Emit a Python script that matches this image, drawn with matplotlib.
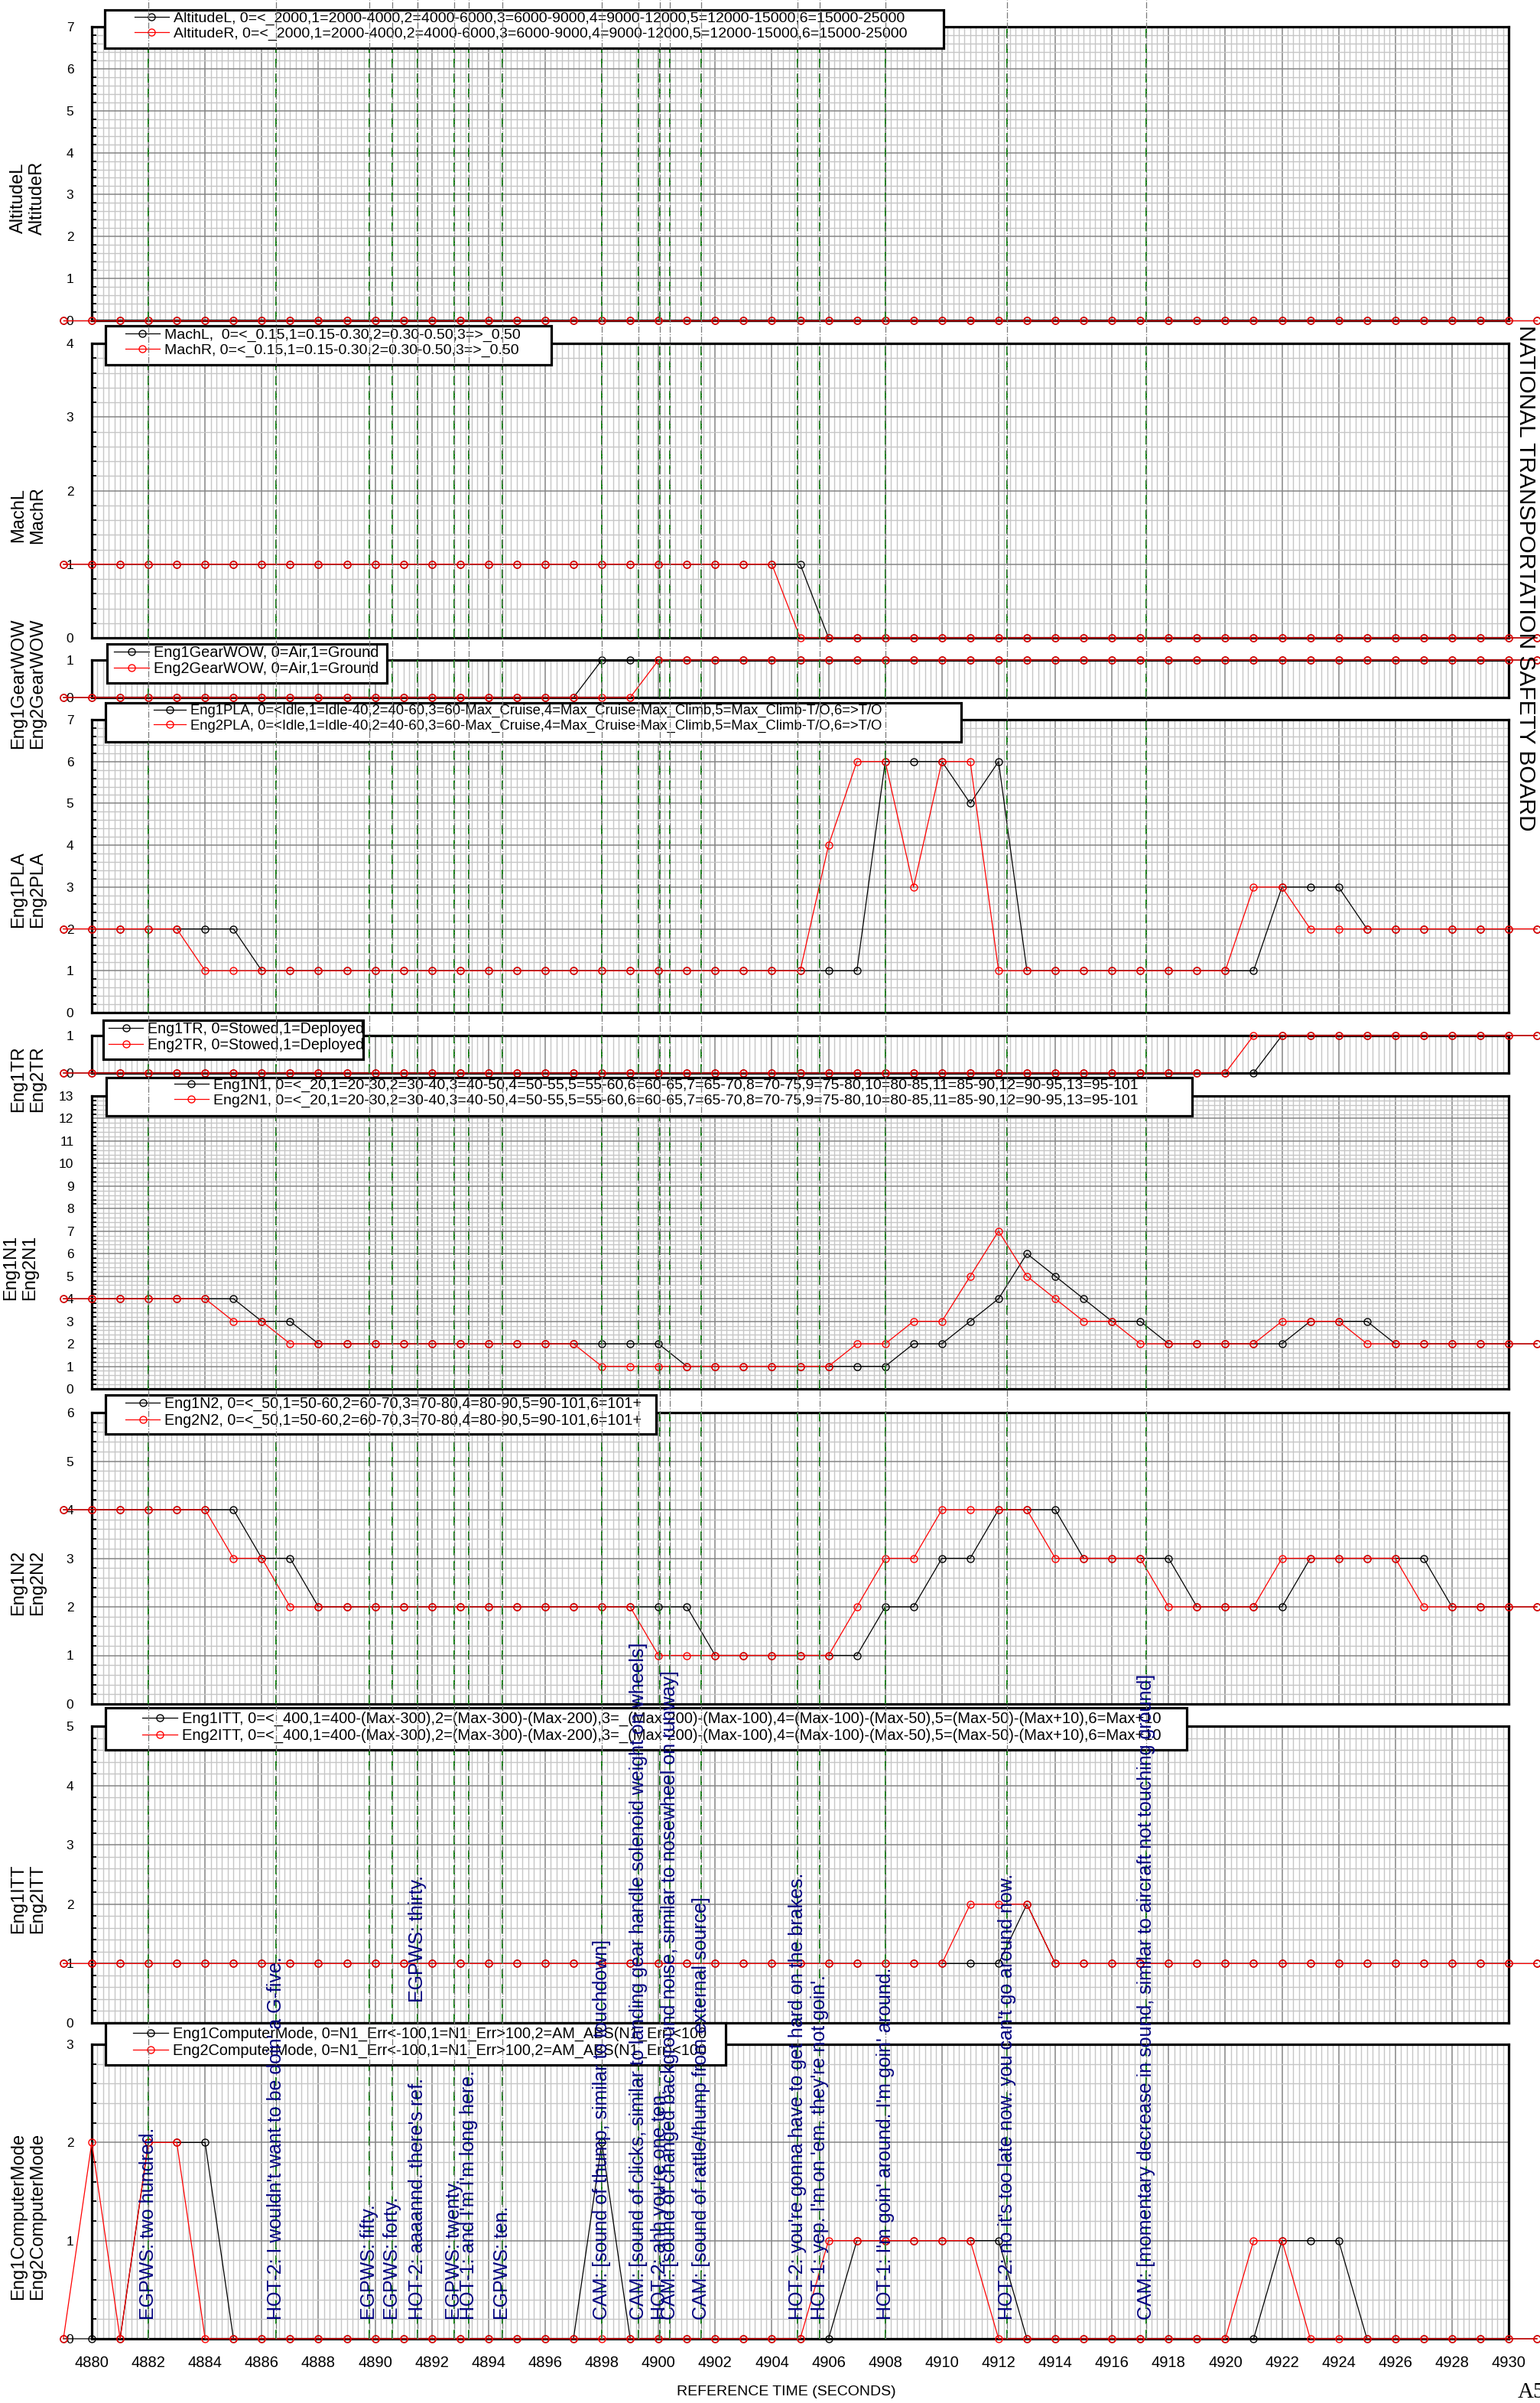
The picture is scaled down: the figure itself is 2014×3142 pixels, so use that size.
import matplotlib
matplotlib.use("Agg")
import matplotlib.pyplot as plt
import matplotlib.transforms as mtransforms
from matplotlib.lines import Line2D
from matplotlib.patches import Rectangle
from matplotlib.ticker import MultipleLocator

plt.rcParams["font.family"] = ["Liberation Sans", "DejaVu Sans"]

# ---------------- data: one sample per second, 4879 .. 4931 ----------------
time_s = list(range(4879, 4932))

altitude_l = [0, 0, 0, 0, 0, 0, 0, 0, 0, 0,
              0, 0, 0, 0, 0, 0, 0, 0, 0, 0,
              0, 0, 0, 0, 0, 0, 0, 0, 0, 0,
              0, 0, 0, 0, 0, 0, 0, 0, 0, 0,
              0, 0, 0, 0, 0, 0, 0, 0, 0, 0,
              0, 0, 0]
altitude_r = [0, 0, 0, 0, 0, 0, 0, 0, 0, 0,
              0, 0, 0, 0, 0, 0, 0, 0, 0, 0,
              0, 0, 0, 0, 0, 0, 0, 0, 0, 0,
              0, 0, 0, 0, 0, 0, 0, 0, 0, 0,
              0, 0, 0, 0, 0, 0, 0, 0, 0, 0,
              0, 0, 0]

mach_l = [1, 1, 1, 1, 1, 1, 1, 1, 1, 1,
          1, 1, 1, 1, 1, 1, 1, 1, 1, 1,
          1, 1, 1, 1, 1, 1, 1, 0, 0, 0,
          0, 0, 0, 0, 0, 0, 0, 0, 0, 0,
          0, 0, 0, 0, 0, 0, 0, 0, 0, 0,
          0, 0, 0]
mach_r = [1, 1, 1, 1, 1, 1, 1, 1, 1, 1,
          1, 1, 1, 1, 1, 1, 1, 1, 1, 1,
          1, 1, 1, 1, 1, 1, 0, 0, 0, 0,
          0, 0, 0, 0, 0, 0, 0, 0, 0, 0,
          0, 0, 0, 0, 0, 0, 0, 0, 0, 0,
          0, 0, 0]

gear_l = [0, 0, 0, 0, 0, 0, 0, 0, 0, 0,
          0, 0, 0, 0, 0, 0, 0, 0, 0, 1,
          1, 1, 1, 1, 1, 1, 1, 1, 1, 1,
          1, 1, 1, 1, 1, 1, 1, 1, 1, 1,
          1, 1, 1, 1, 1, 1, 1, 1, 1, 1,
          1, 1, 1]
gear_r = [0, 0, 0, 0, 0, 0, 0, 0, 0, 0,
          0, 0, 0, 0, 0, 0, 0, 0, 0, 0,
          0, 1, 1, 1, 1, 1, 1, 1, 1, 1,
          1, 1, 1, 1, 1, 1, 1, 1, 1, 1,
          1, 1, 1, 1, 1, 1, 1, 1, 1, 1,
          1, 1, 1]

pla_l = [2, 2, 2, 2, 2, 2, 2, 1, 1, 1,
         1, 1, 1, 1, 1, 1, 1, 1, 1, 1,
         1, 1, 1, 1, 1, 1, 1, 1, 1, 6,
         6, 6, 5, 6, 1, 1, 1, 1, 1, 1,
         1, 1, 1, 3, 3, 3, 2, 2, 2, 2,
         2, 2, 2]
pla_r = [2, 2, 2, 2, 2, 1, 1, 1, 1, 1,
         1, 1, 1, 1, 1, 1, 1, 1, 1, 1,
         1, 1, 1, 1, 1, 1, 1, 4, 6, 6,
         3, 6, 6, 1, 1, 1, 1, 1, 1, 1,
         1, 1, 3, 3, 2, 2, 2, 2, 2, 2,
         2, 2, 2]

tr_l = [0, 0, 0, 0, 0, 0, 0, 0, 0, 0,
        0, 0, 0, 0, 0, 0, 0, 0, 0, 0,
        0, 0, 0, 0, 0, 0, 0, 0, 0, 0,
        0, 0, 0, 0, 0, 0, 0, 0, 0, 0,
        0, 0, 0, 1, 1, 1, 1, 1, 1, 1,
        1, 1, 1]
tr_r = [0, 0, 0, 0, 0, 0, 0, 0, 0, 0,
        0, 0, 0, 0, 0, 0, 0, 0, 0, 0,
        0, 0, 0, 0, 0, 0, 0, 0, 0, 0,
        0, 0, 0, 0, 0, 0, 0, 0, 0, 0,
        0, 0, 1, 1, 1, 1, 1, 1, 1, 1,
        1, 1, 1]

n1_l = [4, 4, 4, 4, 4, 4, 4, 3, 3, 2,
        2, 2, 2, 2, 2, 2, 2, 2, 2, 2,
        2, 2, 1, 1, 1, 1, 1, 1, 1, 1,
        2, 2, 3, 4, 6, 5, 4, 3, 3, 2,
        2, 2, 2, 2, 3, 3, 3, 2, 2, 2,
        2, 2, 2]
n1_r = [4, 4, 4, 4, 4, 4, 3, 3, 2, 2,
        2, 2, 2, 2, 2, 2, 2, 2, 2, 1,
        1, 1, 1, 1, 1, 1, 1, 1, 2, 2,
        3, 3, 5, 7, 5, 4, 3, 3, 2, 2,
        2, 2, 2, 3, 3, 3, 2, 2, 2, 2,
        2, 2, 2]

n2_l = [4, 4, 4, 4, 4, 4, 4, 3, 3, 2,
        2, 2, 2, 2, 2, 2, 2, 2, 2, 2,
        2, 2, 2, 1, 1, 1, 1, 1, 1, 2,
        2, 3, 3, 4, 4, 4, 3, 3, 3, 3,
        2, 2, 2, 2, 3, 3, 3, 3, 3, 2,
        2, 2, 2]
n2_r = [4, 4, 4, 4, 4, 4, 3, 3, 2, 2,
        2, 2, 2, 2, 2, 2, 2, 2, 2, 2,
        2, 1, 1, 1, 1, 1, 1, 1, 2, 3,
        3, 4, 4, 4, 4, 3, 3, 3, 3, 2,
        2, 2, 2, 3, 3, 3, 3, 3, 2, 2,
        2, 2, 2]

itt_l = [1, 1, 1, 1, 1, 1, 1, 1, 1, 1,
         1, 1, 1, 1, 1, 1, 1, 1, 1, 1,
         1, 1, 1, 1, 1, 1, 1, 1, 1, 1,
         1, 1, 1, 1, 2, 1, 1, 1, 1, 1,
         1, 1, 1, 1, 1, 1, 1, 1, 1, 1,
         1, 1, 1]
itt_r = [1, 1, 1, 1, 1, 1, 1, 1, 1, 1,
         1, 1, 1, 1, 1, 1, 1, 1, 1, 1,
         1, 1, 1, 1, 1, 1, 1, 1, 1, 1,
         1, 1, 2, 2, 2, 1, 1, 1, 1, 1,
         1, 1, 1, 1, 1, 1, 1, 1, 1, 1,
         1, 1, 1]

cmode_l = [0, 0, 0, 2, 2, 2, 0, 0, 0, 0,
           0, 0, 0, 0, 0, 0, 0, 0, 0, 2,
           0, 0, 0, 0, 0, 0, 0, 0, 1, 1,
           1, 1, 1, 1, 0, 0, 0, 0, 0, 0,
           0, 0, 0, 1, 1, 1, 0, 0, 0, 0,
           0, 0, 0]
cmode_r = [0, 2, 0, 2, 2, 0, 0, 0, 0, 0,
           0, 0, 0, 0, 0, 0, 0, 0, 0, 0,
           0, 0, 0, 0, 0, 0, 0, 1, 1, 1,
           1, 1, 1, 0, 0, 0, 0, 0, 0, 0,
           0, 0, 1, 1, 0, 0, 0, 0, 0, 0,
           0, 0, 0]

ylabels = ["AltitudeL\nAltitudeR", "MachL\nMachR", "Eng1GearWOW\nEng2GearWOW",
           "Eng1PLA\nEng2PLA", "Eng1TR\nEng2TR", "Eng1N1\nEng2N1",
           "Eng1N2\nEng2N2", "Eng1ITT\nEng2ITT",
           "Eng1ComputerMode\nEng2ComputerMode"]
ymax = [7, 4, 1, 7, 1, 13, 6, 5, 3]
series_l = [altitude_l, mach_l, gear_l, pla_l, tr_l, n1_l, n2_l, itt_l, cmode_l]
series_r = [altitude_r, mach_r, gear_r, pla_r, tr_r, n1_r, n2_r, itt_r, cmode_r]
legend_l = [
    "AltitudeL, 0=<_2000,1=2000-4000,2=4000-6000,3=6000-9000,4=9000-12000,5=12000-15000,6=15000-25000",
    "MachL,  0=<_0.15,1=0.15-0.30,2=0.30-0.50,3=>_0.50",
    "Eng1GearWOW, 0=Air,1=Ground",
    "Eng1PLA, 0=<Idle,1=Idle-40,2=40-60,3=60-Max_Cruise,4=Max_Cruise-Max_Climb,5=Max_Climb-T/O,6=>T/O",
    "Eng1TR, 0=Stowed,1=Deployed",
    "Eng1N1, 0=<_20,1=20-30,2=30-40,3=40-50,4=50-55,5=55-60,6=60-65,7=65-70,8=70-75,9=75-80,10=80-85,11=85-90,12=90-95,13=95-101",
    "Eng1N2, 0=<_50,1=50-60,2=60-70,3=70-80,4=80-90,5=90-101,6=101+",
    "Eng1ITT, 0=<_400,1=400-(Max-300),2=(Max-300)-(Max-200),3=_(Max-200)-(Max-100),4=(Max-100)-(Max-50),5=(Max-50)-(Max+10),6=Max+10",
    "Eng1ComputerMode, 0=N1_Err<-100,1=N1_Err>100,2=AM_ABS(N1_Err)<100",
]
legend_r = [
    "AltitudeR, 0=<_2000,1=2000-4000,2=4000-6000,3=6000-9000,4=9000-12000,5=12000-15000,6=15000-25000",
    "MachR, 0=<_0.15,1=0.15-0.30,2=0.30-0.50,3=>_0.50",
    "Eng2GearWOW, 0=Air,1=Ground",
    "Eng2PLA, 0=<Idle,1=Idle-40,2=40-60,3=60-Max_Cruise,4=Max_Cruise-Max_Climb,5=Max_Climb-T/O,6=>T/O",
    "Eng2TR, 0=Stowed,1=Deployed",
    "Eng2N1, 0=<_20,1=20-30,2=30-40,3=40-50,4=50-55,5=55-60,6=60-65,7=65-70,8=70-75,9=75-80,10=80-85,11=85-90,12=90-95,13=95-101",
    "Eng2N2, 0=<_50,1=50-60,2=60-70,3=70-80,4=80-90,5=90-101,6=101+",
    "Eng2ITT, 0=<_400,1=400-(Max-300),2=(Max-300)-(Max-200),3=_(Max-200)-(Max-100),4=(Max-100)-(Max-50),5=(Max-50)-(Max+10),6=Max+10",
    "Eng2ComputerMode, 0=N1_Err<-100,1=N1_Err>100,2=AM_ABS(N1_Err)<100",
]

event_times = [4882.0, 4886.5, 4889.8, 4890.6, 4891.5, 4891.5, 4892.8, 4893.3,
               4894.5, 4898.0, 4899.3, 4900.05, 4900.4, 4901.5, 4904.9,
               4905.7, 4908.0, 4912.3, 4917.2]
event_texts = [
    "EGPWS: two hundred.",
    "HOT-2: I wouldn't want to be doin' a G-five.",
    "EGPWS: fifty.",
    "EGPWS: forty.",
    "HOT-2: aaaannd. there's ref.",
    "EGPWS: thirty.",
    "EGPWS: twenty.",
    "HOT-1: and I'm I'm long here.",
    "EGPWS: ten.",
    "CAM: [sound of thump, similar to touchdown]",
    "CAM: [sound of clicks, similar to landing gear handle solenoid weight on wheels]",
    "HOT-2: ahh you're one ten.",
    "CAM: [sound of changed background noise, similar to nosewheel on runway]",
    "CAM: [sound of rattle/thump from external source]",
    "HOT-2: you're gonna have to get hard on the brakes.",
    "HOT-1: yep. I'm on 'em. they're not goin'.",
    "HOT-1: I'm goin' around. I'm goin' around.",
    "HOT-2: no it's too late now. you can't go around now.",
    "CAM: [momentary decrease in sound, similar to aircraft not touching ground]",
]

# ---------------- layout (pixels of the 2015 x 3142 canvas) ----------------
W, H, DPI = 2015, 3142, 100
X_LEFT, X_RIGHT = 120, 1973
panel_px = [(35, 419), (449, 834), (863, 912), (941, 1324), (1354, 1403),
            (1433, 1816), (1847, 2228), (2257, 2645), (2673, 3058)]
label_shift = [32, 32, 6, 31, 32, 33, 32, 32, 32]
# legend frame (x0, y0, x1, y1), handle start x, first row centre y
legend_px = [((137, 13, 1234, 63), 176, 27),
             ((138, 426, 721, 477), 164, 441),
             ((140, 842, 506, 893), 149, 856),
             ((138, 919, 1257, 970), 201, 933),
             ((135, 1334, 475, 1385), 142, 1348),
             ((139, 1409, 1559, 1459), 228, 1422),
             ((138, 1824, 858, 1875), 164, 1838),
             ((138, 2233, 1552, 2288), 186, 2250),
             ((138, 2645, 949, 2700), 174, 2662)]
legend_fs = [14, 14, 14.3, 13.3, 14.1, 14, 14.1, 14.5, 14.3]
text_base_px = [3033] * len(event_texts)
text_base_px[5] = 2618


def fx(px):
    return px / W


def fy(py):
    return 1 - py / H


fig = plt.figure(figsize=(W / DPI, H / DPI), dpi=DPI)
fig.patch.set_facecolor("white")

axes = []
for i, (top, bot) in enumerate(panel_px):
    ax = fig.add_axes([fx(X_LEFT), fy(bot), (X_RIGHT - X_LEFT) / W, (bot - top) / H])
    ax.set_xlim(4880, 4930)
    ax.set_ylim(0, ymax[i])
    ax.xaxis.set_major_locator(MultipleLocator(2))
    ax.xaxis.set_minor_locator(MultipleLocator(0.2))
    ax.yaxis.set_major_locator(MultipleLocator(1))
    if ymax[i] > 1:
        ax.yaxis.set_minor_locator(MultipleLocator(0.2))
    ax.grid(which="minor", color="#c6c6c6", lw=1.0)
    ax.grid(which="major", color="#858585", lw=1.1)
    ax.set_axisbelow(True)
    for s in ax.spines.values():
        s.set_linewidth(2.3)
        s.set_color("black")
    ax.tick_params(axis="x", which="both", length=0, labelbottom=(i == 8),
                   labelsize=14.5, pad=16)
    ax.tick_params(axis="y", which="major", length=0, labelsize=12.5, pad=17)
    ax.tick_params(axis="y", which="minor", direction="in", length=4, width=1.3)
    ax.set_ylabel(ylabels[i], fontsize=17, labelpad=19,
                  y=0.5 - label_shift[i] / (bot - top))

    ax.plot(time_s, series_l[i], color="black", lw=0.9, marker="o", ms=6.5,
            mfc="none", mew=1.0, clip_on=False, zorder=3)
    ax.plot(time_s, series_r[i], color="red", lw=0.9, marker="o", ms=6.5,
            mfc="none", mew=1.0, clip_on=False, zorder=4)
    for t in event_times:
        ax.axvline(t, color="#008000", ls=(0, (6, 4)), lw=1.4, zorder=5)
    axes.append(ax)

# legends with square thick frames
for i, ((x0, y0, x1, y1), hx, ry) in enumerate(legend_px):
    fig.add_artist(Rectangle((fx(x0), fy(y1)), (x1 - x0) / W, (y1 - y0) / H,
                             transform=fig.transFigure, facecolor="white",
                             edgecolor="black", lw=2.3, zorder=10))
    handles = [Line2D([], [], color="black", lw=0.9, marker="o", ms=6.5, mfc="none"),
               Line2D([], [], color="red", lw=0.9, marker="o", ms=6.5, mfc="none")]
    leg = fig.legend(handles, [legend_l[i], legend_r[i]], loc="upper left",
                     bbox_to_anchor=(fx(hx), fy(ry - 12)), frameon=False,
                     fontsize=legend_fs[i], handlelength=2.3, handletextpad=0.3,
                     borderpad=0, borderaxespad=0, labelspacing=0.12)
    leg.set_zorder(11)

# event lines running through the whole sheet
ax_b = axes[-1]
line_tr = mtransforms.blended_transform_factory(ax_b.transData, fig.transFigure)
for t in event_times:
    fig.add_artist(Line2D([t, t], [fy(panel_px[-1][1]), 1.0], transform=line_tr,
                          color="#7a7a7a", ls="-.", lw=0.9, zorder=12))

# CVR annotations
for t, s, yb in zip(event_times, event_texts, text_base_px):
    fig.text(t, fy(yb), s, transform=line_tr, rotation=90, ha="center",
             va="bottom", color="#000080", fontsize=18, zorder=15)

fig.text(fx(1028), fy(3127), "REFERENCE TIME (SECONDS)", ha="center",
         va="center", fontsize=14)
fig.text(fx(1995), fy(756), "NATIONAL TRANSPORTATION SAFETY BOARD",
         rotation=-90, ha="center", va="center", fontsize=21.5)
fig.text(fx(1985), fy(3135), "A5", family="Liberation Serif", fontsize=21,
         ha="left", va="baseline")

fig.savefig("out.png", dpi=DPI)
